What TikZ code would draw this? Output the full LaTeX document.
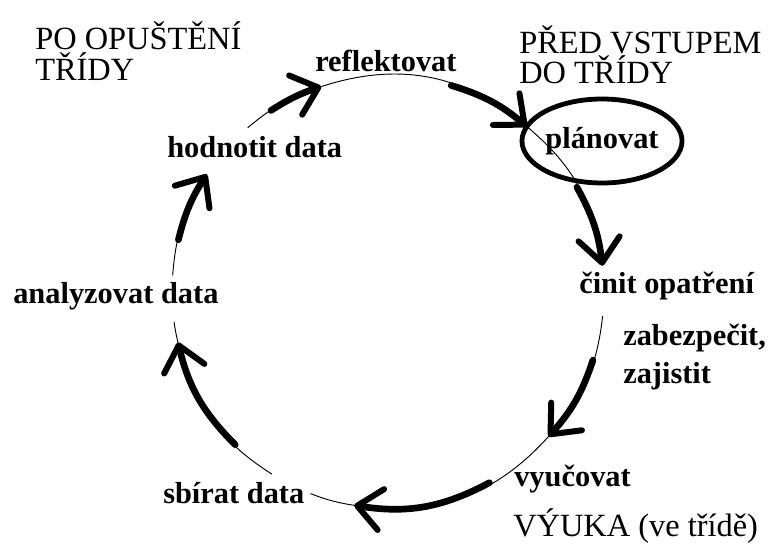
\documentclass[tikz,border=0pt]{standalone}
\usepackage{fontspec}
\setmainfont{Liberation Serif}
\usepackage{tikz}
\usetikzlibrary{arrows.meta}
\usetikzlibrary{shapes.geometric}

\begin{document}
\begin{tikzpicture}[x=0.75pt, y=0.75pt,
	lbl/.style={font=\fontsize{22.8}{27}\selectfont\bfseries, anchor=base west, inner sep=0pt},
	hdr/.style={font=\fontsize{24.3}{27}\selectfont, anchor=base west, inner sep=0pt},
	arcthin/.style={line width=0.7pt},
	arcthick/.style={line width=5pt, line cap=round,
		-{Straight Barb[length=18pt, width=31pt, line width=4.5pt, round]}}
	]
	\useasboundingbox (0,0) rectangle (768,-548);

	\coordinate (c) at (388,-292);
	\foreach \n/\a in {a1/130.5, s1/122.8, t1/108, s2/73, t2/50, s3/29, t3/7,
		a4/-6.4, s4/-18.4, t4/-42, s5/-62, t5/-99, e5/-111,
		a6/-122.5, s6/-135, t6/-166.5, e6/-172, a7/175.6, s7/166, t7/147}
		\coordinate (\n) at ([shift={(\a:216)}]c);

	\node[hdr] (leave1) at (35,-50) {PO OPUŠTĚNÍ};
	\node[hdr] (leave2) at (35,-81) {TŘÍDY};
	\node[hdr] (enter1) at (519,-54) {PŘED VSTUPEM};
	\node[hdr] (enter2) at (519,-84) {DO TŘÍDY};
	\node[hdr] (teach) at (513,-537) {VÝUKA (ve třídě)};

	\node[lbl] (reflect) at (315,-72) {reflektovat};
	\node[lbl] (evaluate) at (167,-158) {hodnotit data};
	\node[lbl] (analyse) at (13,-304) {analyzovat data};
	\node[lbl] (collect) at (163,-504) {sbírat data};
	\node[lbl] (instruct) at (514,-487) {vyučovat};
	\node[lbl] (act) at (579,-294) {činit opatření};
	\node[lbl] (secure1) at (623,-346) {zabezpečit,};
	\node[lbl] (secure2) at (623,-384) {zajistit};
	\node[draw, ellipse, line width=3.6pt, inner sep=0pt,
		minimum width=112pt, minimum height=63pt,
		font=\fontsize{22.8}{27}\selectfont\bfseries] (plan) at (602,-141) {plánovat};

	\draw[arcthin] (a1) to[bend left=11] (t1);
	\draw[arcthick] (s1) to[bend left=7] (t1);
	\draw[arcthin] (t1) to[bend left=29] (t2);
	\draw[arcthick] (s2) to[bend left=11.5] (t2);
	\draw[arcthin] (t2) to[bend left=21.5] (t3);
	\draw[arcthick] (s3) to[bend left=11] (t3);
	\draw[arcthin] (a4) to[bend left=17.8] (t4);
	\draw[arcthick] (s4) to[bend left=11.8] (t4);
	\draw[arcthin] (t4) to[bend left=28.5] (t5);
	\draw[arcthick] (s5) to[bend left=18.5] (t5);
	\draw[arcthin] (t5) to[bend left=6] (e5);
	\draw[arcthin] (a6) to[bend left=22] (t6);
	\draw[arcthick] (s6) to[bend left=15.8] (t6);
	\draw[arcthin] (t6) to[bend left=2.8] (e6);
	\draw[arcthin] (a7) to[bend left=14.3] (t7);
	\draw[arcthick] (s7) to[bend left=9.5] (t7);
\end{tikzpicture}
\end{document}
